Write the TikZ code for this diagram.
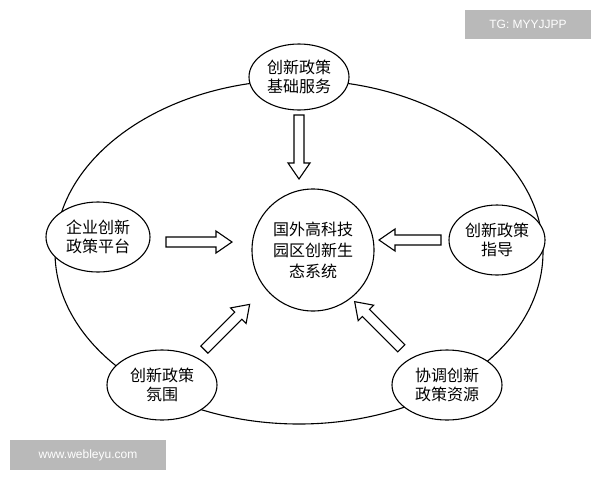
\documentclass[tikz,border=0pt]{standalone}
\usepackage{fontspec}
\newfontfamily\cjk{Noto Sans CJK SC}
\setsansfont{Liberation Sans}
\usetikzlibrary{shapes.geometric}
\newcommand\blkarr[3]{%
  \begin{scope}[shift={(#1)},rotate=#2]
  \draw[line width=1.1pt,fill=white] (-#3/2,-5)--(#3/2-16,-5)--(#3/2-16,-11)--(#3/2,0)--(#3/2-16,11)--(#3/2-16,5)--(-#3/2,5)--cycle;
  \end{scope}}
\begin{document}
\begin{tikzpicture}[x=1pt,y=-1pt,
  el/.style={draw,line width=1.1pt,ellipse,align=center,inner sep=0pt,font=\cjk\fontsize{16}{19}\selectfont,fill=white},
  wm/.style={fill=gray!55,text=white,font=\sffamily\fontsize{12}{14}\selectfont,inner sep=0pt}]
\useasboundingbox (0,0) rectangle (600,480);
\fill[white] (0,0) rectangle (600,480);
\draw[line width=1.1pt] (299,252) ellipse [x radius=244, y radius=172];
\node[draw,line width=1.1pt,circle,minimum size=122pt,inner sep=0pt,align=center,font=\cjk\fontsize{16}{21}\selectfont,fill=white] (c) at (313,250) {国外高科技\\园区创新生\\态系统};
\node[el,minimum width=100pt,minimum height=66pt] (t) at (299,77) {创新政策\\基础服务};
\node[el,minimum width=104pt,minimum height=70pt] (l) at (98,237) {企业创新\\政策平台};
\node[el,minimum width=96pt,minimum height=70pt] (r) at (497,240) {创新政策\\指导};
\node[el,minimum width=110pt,minimum height=70pt] (bl) at (162,385) {创新政策\\氛围};
\node[el,minimum width=110pt,minimum height=70pt] (br) at (447,385) {协调创新\\政策资源};
\blkarr{299,147}{-90}{64}
\blkarr{199,242}{0}{66}
\blkarr{410,240}{180}{62}
\blkarr{227,327}{45}{64}
\blkarr{378,325}{135}{66}
\node[wm,minimum width=126pt,minimum height=29pt] (w1) at (528,24) {TG: MYYJJPP};
\node[wm,minimum width=156pt,minimum height=30pt] (w2) at (88,455) {www.webleyu.com};
\end{tikzpicture}
\end{document}
